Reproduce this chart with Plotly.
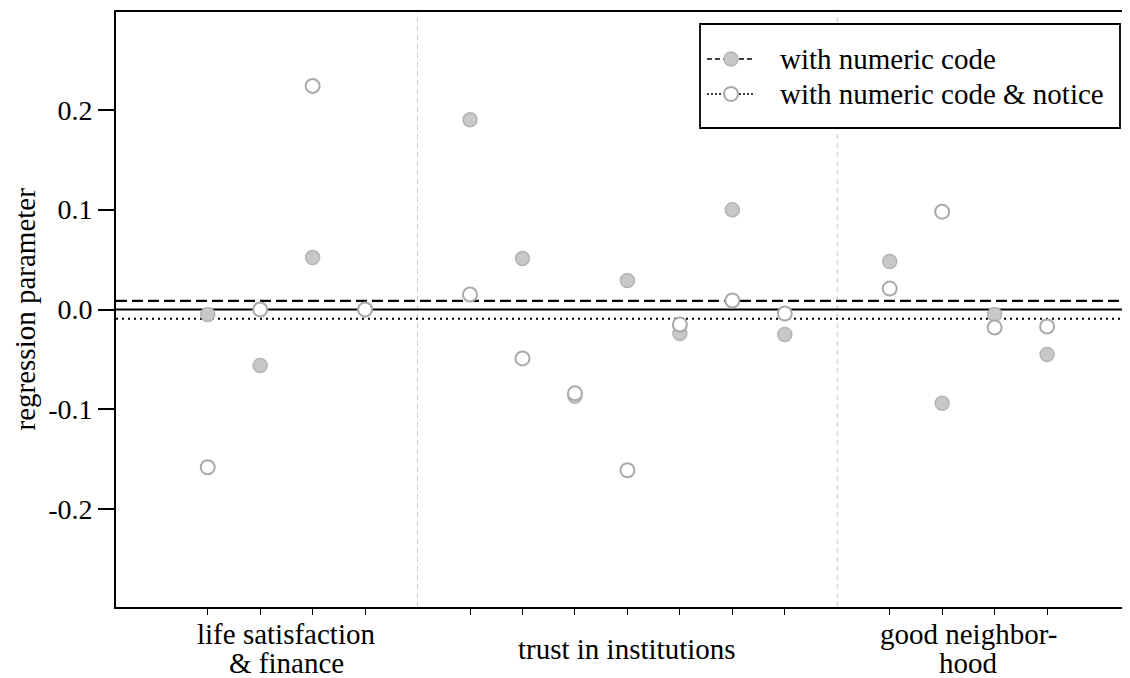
import numpy as np
import plotly.graph_objects as go

# positions: 0-3 group 1, 4 divider, 5-11 group 2, 12 divider, 13-16 group 3
positions = [0, 1, 2, 3, 5, 6, 7, 8, 9, 10, 11, 13, 14, 15, 16]
numeric_code = [-0.005, -0.056, 0.052, 0.0,
                0.190, 0.051, -0.087, 0.029, -0.024, 0.100, -0.025,
                0.048, -0.094, -0.005, -0.045]
numeric_notice = [-0.158, 0.0, 0.224, 0.0,
                  0.015, -0.049, -0.084, -0.161, -0.015, 0.009, -0.004,
                  0.021, 0.098, -0.018, -0.017]
series_names = ["with numeric code", "with numeric code & notice"]
dividers = [4, 12]
label_lines = ["life satisfaction", "& finance", "trust in institutions", "good neighbor-", "hood"]
label_centers = [1.5, 1.5, 8, 14.5, 14.5]
label_rows = [0, 1, 0.5, 0, 1]
y_ticks = [-0.2, -0.1, 0.0, 0.1, 0.2]
y_ticklabels = ["-0.2", "-0.1", "0.0", "0.1", "0.2"]
y_title = "regression parameter"

mean_code = float(np.mean(numeric_code))
mean_notice = float(np.mean(numeric_notice))

FONT = "Liberation Serif, Times New Roman, Times, serif"
FS = 29
TICKFS = 28

# page has an 8px body margin; plot area on page: x 116..1130, y 12..607
W, H = 1122, 670
L, R, T, B = 108, 0, 4, 71
PX0, PX1, PY0, PY1 = 116, 1130, 12, 607

filled = dict(size=14, color="#c8c8c8", line=dict(color="#b4b4b4", width=1.5))
hollow = dict(size=14, color="white", line=dict(color="#aaaaaa", width=2))

fig = go.Figure()
fig.add_trace(go.Scatter(x=positions, y=numeric_code, mode="markers", showlegend=False,
                         marker=filled, name=series_names[0]))
fig.add_trace(go.Scatter(x=positions, y=numeric_notice, mode="markers", showlegend=False,
                         marker=hollow, name=series_names[1]))

# legend (drawn manually in page-pixel coordinates on an overlay axis)
leg_box = (700, 1120, 24, 128)
leg_rows = [59, 94]
leg_line = (707, 755)
leg_marker_x = 731
leg_text_x = 778
leg_dash = ["5px,3px", "2px,2px"]
fig.add_trace(go.Scatter(x=[leg_marker_x, leg_marker_x], y=leg_rows, xaxis="x2", yaxis="y2",
                         mode="markers", showlegend=False, hoverinfo="skip",
                         marker=dict(size=14, color=["#c8c8c8", "white"],
                                     line=dict(color=["#b4b4b4", "#aaaaaa"], width=[1.5, 2]))))

shapes = []
for d in dividers:
    shapes.append(dict(type="line", xref="x", yref="paper", x0=d, x1=d, y0=0, y1=1,
                       line=dict(color="#c8c8c8", width=1, dash="5px,4px"), layer="below"))
shapes.append(dict(type="line", xref="paper", yref="y", x0=0, x1=1, y0=0, y1=0,
                   line=dict(color="black", width=2), layer="below"))
shapes.append(dict(type="line", xref="paper", yref="y", x0=0, x1=1, y0=mean_code, y1=mean_code,
                   line=dict(color="black", width=2.4, dash="11px,5px"), layer="below"))
shapes.append(dict(type="line", xref="paper", yref="y", x0=0, x1=1, y0=mean_notice, y1=mean_notice,
                   line=dict(color="black", width=2.2, dash="2px,4px"), layer="below"))
shapes.append(dict(type="rect", xref="x2", yref="y2", x0=leg_box[0], x1=leg_box[1],
                   y0=leg_box[2], y1=leg_box[3], fillcolor="white",
                   line=dict(color="black", width=1.8), layer="below"))
for yy, dsh in zip(leg_rows, leg_dash):
    shapes.append(dict(type="line", xref="x2", yref="y2", x0=leg_line[0], x1=leg_line[1],
                       y0=yy, y1=yy, line=dict(color="black", width=1.5, dash=dsh), layer="below"))

annotations = []
for txt, c, row in zip(label_lines, label_centers, label_rows):
    annotations.append(dict(x=c, y=-0.015 - row * 0.049, xref="x", yref="paper",
                            text=txt, showarrow=False, yanchor="top",
                            font=dict(family=FONT, size=FS, color="black")))
for txt, yy in zip(series_names, leg_rows):
    annotations.append(dict(x=leg_text_x, y=yy, xref="x2", yref="y2", text=txt,
                            showarrow=False, xanchor="left", yanchor="middle",
                            font=dict(family=FONT, size=FS, color="black")))
annotations.append(dict(x=(24 - PX0) / (PX1 - PX0), y=0.5, xref="paper", yref="paper",
                        text=y_title, textangle=-90, showarrow=False,
                        xanchor="center", yanchor="middle",
                        font=dict(family=FONT, size=FS, color="black")))

fig.update_layout(
    width=W, height=H,
    margin=dict(l=L, r=R, t=T, b=B),
    paper_bgcolor="white", plot_bgcolor="white",
    font=dict(family=FONT, size=FS, color="black"),
    shapes=shapes, annotations=annotations, showlegend=False,
    xaxis=dict(range=[-1.748, 17.58], tickmode="array",
               tickvals=positions, ticktext=[""] * len(positions),
               ticks="outside", ticklen=6, tickwidth=1.2, tickcolor="black",
               showline=True, linecolor="black", linewidth=1.8, mirror=True,
               showgrid=False, zeroline=False),
    yaxis=dict(range=[-0.298, 0.298], tickmode="array",
               tickvals=y_ticks, ticktext=y_ticklabels,
               ticks="outside", ticklen=16, tickwidth=1.5, tickcolor="black",
               showline=True, linecolor="black", linewidth=1.8, mirror=False,
               showgrid=False, zeroline=False,
               tickfont=dict(family=FONT, size=TICKFS)),
    xaxis2=dict(overlaying="x", range=[PX0, PX1], visible=False, fixedrange=True),
    yaxis2=dict(overlaying="y", range=[PY1, PY0], visible=False, fixedrange=True),
)

fig.write_html("out.html")
